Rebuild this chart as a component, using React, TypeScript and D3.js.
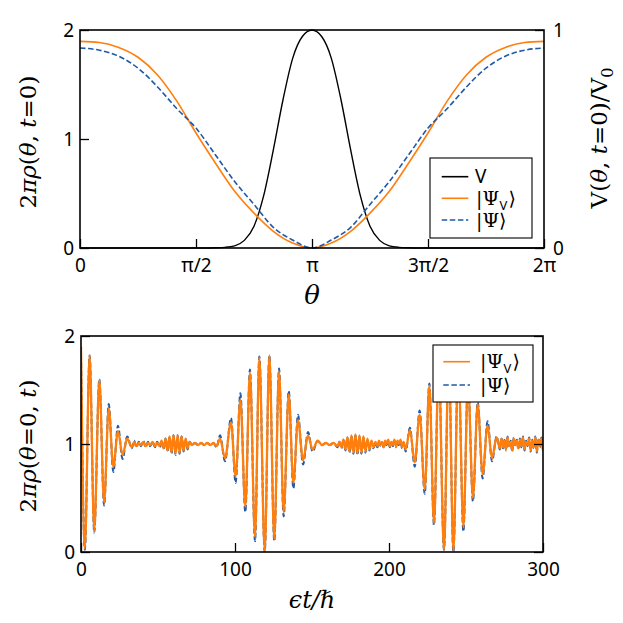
import React, { useEffect, useRef } from 'react';
import * as d3 from 'd3';

// ---- top panel: theta in units of pi ----
const thetaTicks = [0, 0.5, 1, 1.5, 2];
const thetaTickLabels = ['0', 'π/2', 'π', '3π/2', '2π'];

// theta grid (twelfths of pi) for the densities
const thetaRho = [0, 1, 2, 3, 4, 5, 6, 7, 8, 9, 10, 11, 12, 13, 14, 15, 16, 17, 18, 19, 20, 21, 22, 23, 24];
const rhoV0 = [1.896, 1.885, 1.84, 1.75, 1.59, 1.35, 1.055, 0.78, 0.52, 0.32, 0.153, 0.045, 0,
    0.045, 0.153, 0.32, 0.52, 0.78, 1.055, 1.35, 1.59, 1.75, 1.84, 1.885, 1.896];
const rho0 = [1.835, 1.815, 1.76, 1.65, 1.48, 1.28, 1.1, 0.856, 0.61, 0.4, 0.19, 0.073, 0,
    0.073, 0.19, 0.4, 0.61, 0.856, 1.1, 1.28, 1.48, 1.65, 1.76, 1.815, 1.835];

// theta grid (24ths of pi) for the potential
const thetaV = [0, 1, 2, 3, 4, 5, 6, 7, 8, 9, 10, 11, 12, 13, 14, 15, 16, 17, 18, 19, 20, 21, 22, 23, 24,
    25, 26, 27, 28, 29, 30, 31, 32, 33, 34, 35, 36, 37, 38, 39, 40, 41, 42, 43, 44, 45, 46, 47, 48];
const potV = [0, 0, 0, 0, 0, 0, 0, 0, 0, 0, 0, 0, 0, 0, 0.001, 0.003, 0.01, 0.035, 0.1, 0.24, 0.45, 0.68, 0.87, 0.97, 1,
    0.97, 0.87, 0.68, 0.45, 0.24, 0.1, 0.035, 0.01, 0.003, 0.001, 0, 0, 0, 0, 0, 0, 0, 0, 0, 0, 0, 0, 0, 0];

// ---- bottom panel: density at theta=0 vs time ----
const timeTicks = [0, 100, 200, 300];
const tTime = [
    // first revival
    0, 2.5, 5.6, 8.6, 11.9, 15, 18, 21, 24, 27, 30,
    // quiet
    33, 34.5, 36, 37.5, 39, 40.5, 42, 43.5, 45, 46.5, 48, 49.5,
    // small packet
    51, 52.3, 53.6, 54.9, 56.2, 57.5, 58.8, 60.1, 61.4, 62.7, 64, 65.3, 66.6, 67.9, 69.2, 70.5,
    // quiet
    72, 74, 76, 78, 80, 82, 84, 86, 88,
    // second revival
    90.3, 93.5, 97.4, 100.4, 103.5, 106.7, 109.7, 113, 115.8, 119.3, 122.3, 125.5, 128.6, 131.6, 134.9,
    137.9, 140.9, 144.2, 147.4, 150.4, 153.7,
    // quiet
    156.5, 159, 161.5, 164,
    // small packet
    166.5, 167.8, 169.1, 170.4, 171.7, 173, 174.3, 175.6, 176.9, 178.2, 179.5, 180.8, 182.1, 183.4, 184.7,
    186, 187.3, 188.6, 189.9, 191.2,
    // noisy
    192.5, 193.5, 194.5, 195.5, 196.5, 197.5, 198.5, 199.5, 200.5, 201.5, 202.5, 203.5, 204.5, 205.5,
    206.5, 207.5, 208.5, 209.5,
    // third revival
    210.8, 213.6, 216.7, 219.9, 223.2, 226.2, 229.2, 232.3, 235.7, 238.8, 241.8, 245, 248.3, 251.3, 254.5,
    257.6, 260.8, 264, 266.9, 269.9,
    // noisy tail
    272, 273, 274, 275, 276, 277, 278, 279, 280, 281, 282, 283, 284, 285, 286, 287, 288, 289, 290, 291,
    292, 293, 294, 295, 296, 297, 298, 299, 300,
];
const rhoVTime = [
    1.9, 0.03, 1.82, 0.2, 1.59, 0.46, 1.33, 0.79, 1.12, 0.9, 1.05,
    0.97, 1.02, 0.98, 1.01, 0.99, 1.02, 0.98, 1.01, 0.99, 1.02, 0.98, 1.01,
    0.98, 1.03, 0.96, 1.05, 0.94, 1.07, 0.92, 1.08, 0.91, 1.08, 0.92, 1.07, 0.94, 1.05, 0.96, 1.02,
    0.99, 1.01, 0.99, 1.01, 0.99, 1.01, 0.99, 1.01, 0.98,
    1.05, 0.87, 1.2, 0.7, 1.41, 0.42, 1.66, 0.14, 1.8, 0.01, 1.82, 0.12, 1.67, 0.37, 1.46,
    0.64, 1.22, 0.85, 1.08, 0.95, 1.03,
    0.99, 1.01, 0.99, 1.01,
    0.98, 1.02, 0.97, 1.04, 0.95, 1.06, 0.93, 1.08, 0.92, 1.09, 0.91, 1.08, 0.92, 1.07, 0.93,
    1.05, 0.95, 1.03, 0.97, 1.02,
    0.98, 1.03, 0.99, 1.02, 0.97, 1.03, 1.0, 1.04, 0.98, 1.02, 0.99, 1.04, 0.98, 1.03,
    1.0, 1.04, 0.97, 1.02,
    0.95, 1.13, 0.83, 1.27, 0.58, 1.54, 0.27, 1.72, 0.02, 1.82, 0.01, 1.76, 0.23, 1.58, 0.5,
    1.37, 0.72, 1.17, 0.87, 1.06,
    0.96, 1.05, 0.97, 1.03, 0.95, 1.06, 0.98, 1.02, 0.94, 1.05, 0.99, 1.03, 0.96, 1.04, 0.98, 1.06,
    0.95, 1.02, 0.99, 1.05, 0.94, 1.03, 0.97, 1.06, 0.93, 1.04, 0.98, 1.05, 0.94,
];
const rhoTime = [
    1.83, 0.02, 1.82, 0.18, 1.6, 0.43, 1.37, 0.74, 1.17, 0.86, 1.07,
    0.96, 1.03, 0.97, 1.02, 0.98, 1.03, 0.97, 1.02, 0.98, 1.02, 0.97, 1.02,
    0.97, 1.03, 0.95, 1.05, 0.93, 1.07, 0.91, 1.08, 0.9, 1.08, 0.91, 1.07, 0.93, 1.05, 0.95, 1.02,
    0.99, 1.01, 0.99, 1.01, 0.99, 1.01, 0.99, 1.01, 0.97,
    1.08, 0.84, 1.24, 0.64, 1.47, 0.37, 1.69, 0.1, 1.81, 0.0, 1.82, 0.1, 1.7, 0.33, 1.49,
    0.59, 1.27, 0.81, 1.11, 0.93, 1.03,
    0.99, 1.01, 0.99, 1.01,
    0.97, 1.02, 0.96, 1.04, 0.94, 1.06, 0.92, 1.07, 0.91, 1.08, 0.9, 1.07, 0.91, 1.06, 0.92,
    1.04, 0.94, 1.02, 0.96, 1.01,
    0.97, 1.02, 0.98, 1.01, 0.96, 1.02, 0.99, 1.03, 0.97, 1.01, 0.98, 1.03, 0.97, 1.02,
    0.99, 1.03, 0.96, 1.01,
    0.93, 1.15, 0.79, 1.31, 0.54, 1.56, 0.25, 1.74, 0.02, 1.82, 0.0, 1.78, 0.19, 1.6, 0.47,
    1.39, 0.68, 1.21, 0.84, 1.07,
    0.95, 1.06, 0.96, 1.04, 0.94, 1.07, 0.97, 1.03, 0.93, 1.06, 0.98, 1.04, 0.95, 1.05, 0.97, 1.07,
    0.94, 1.03, 0.98, 1.06, 0.93, 1.04, 0.96, 1.07, 0.92, 1.05, 0.97, 1.06, 0.93,
];

const ORANGE = '#ff7f0e';
const BLUE = '#1f5aa6';
const tickFont = '"Noto Sans", "DejaVu Sans", sans-serif';
const mathFont = '"DejaVu Serif", serif';

function styleAxis(sel: any) {
    sel.select('.domain').remove();
    sel.selectAll('.tick line').attr('stroke', '#000').attr('stroke-width', 1.3);
    sel.selectAll('.tick text')
        .attr('font-family', tickFont)
        .attr('font-size', 19)
        .attr('fill', '#000');
}

// label made of [text, italic?, sub?] pieces
function mathLabel(g: any, parts: [string, boolean, boolean][], size: number) {
    const text = g.append('text')
        .attr('text-anchor', 'middle')
        .attr('font-family', mathFont)
        .attr('font-size', size)
        .attr('fill', '#000');
    let down = 0;
    parts.forEach(([s, it, sub]) => {
        const dy = sub ? size * 0.25 - down : -down;
        down = sub ? size * 0.25 : 0;
        text.append('tspan')
            .attr('font-style', it ? 'italic' : 'normal')
            .attr('font-size', sub ? size * 0.7 : size)
            .attr('dy', dy)
            .text(s);
    });
    return text;
}

// legend entry: sample line + label, as one text with tspans
function legendRow(g: any, y: number, x0: number, x1: number, tx: number, color: string, dash: string | null, label: 'V' | 'PsiV' | 'Psi') {
    const ln = g.append('line')
        .attr('x1', x0).attr('x2', x1).attr('y1', y).attr('y2', y)
        .attr('stroke', color).attr('stroke-width', 1.6);
    if (dash) ln.attr('stroke-dasharray', dash);
    const t = g.append('text').attr('x', tx).attr('y', y + 6.5)
        .attr('font-size', 19).attr('fill', '#000');
    if (label === 'V') {
        t.attr('font-family', tickFont).text('V');
        return;
    }
    t.attr('font-family', mathFont);
    t.append('tspan').text('|Ψ');
    if (label === 'PsiV') {
        t.append('tspan').attr('font-family', tickFont).attr('font-size', 13)
            .attr('dx', 0.5).attr('dy', 5).text('V');
        t.append('tspan').attr('dx', 1).attr('dy', -5).text('⟩');
    } else {
        t.append('tspan').text('⟩');
    }
}

function drawChart(svgEl: SVGSVGElement) {
    const svg = d3.select(svgEl);
    svg.selectAll('*').remove();
    svg.append('rect').attr('width', 623).attr('height', 623).attr('fill', '#fff');

    // ================= top panel =================
    const T = { left: 80, right: 544, top: 30, bottom: 248 };
    const xTop = d3.scaleLinear().domain([0, 2]).range([T.left, T.right]);
    const yTopL = d3.scaleLinear().domain([0, 2]).range([T.bottom, T.top]);
    const yTopR = d3.scaleLinear().domain([0, 1]).range([T.bottom, T.top]);

    svg.append('clipPath').attr('id', 'clipTop')
        .append('rect').attr('x', T.left).attr('y', T.top - 2)
        .attr('width', T.right - T.left).attr('height', T.bottom - T.top + 4);

    const topG = svg.append('g').attr('clip-path', 'url(#clipTop)');

    const lineTop = d3.line<[number, number]>()
        .x((d) => xTop(d[0]))
        .y((d) => yTopL(d[1]))
        .curve(d3.curveMonotoneX);
    const lineTopR = d3.line<[number, number]>()
        .x((d) => xTop(d[0]))
        .y((d) => yTopR(d[1]))
        .curve(d3.curveMonotoneX);

    topG.append('path')
        .attr('d', lineTopR(thetaV.map((k, i) => [k / 24, potV[i]] as [number, number])))
        .attr('fill', 'none').attr('stroke', '#000').attr('stroke-width', 1.4);
    topG.append('path')
        .attr('d', lineTop(thetaRho.map((k, i) => [k / 12, rhoV0[i]] as [number, number])))
        .attr('fill', 'none').attr('stroke', ORANGE).attr('stroke-width', 1.6);
    topG.append('path')
        .attr('d', lineTop(thetaRho.map((k, i) => [k / 12, rho0[i]] as [number, number])))
        .attr('fill', 'none').attr('stroke', BLUE).attr('stroke-width', 1.6)
        .attr('stroke-dasharray', '5.5,2.6');

    svg.append('g').attr('transform', `translate(0,${T.bottom})`)
        .call(d3.axisBottom(xTop).tickValues(thetaTicks)
            .tickFormat((d, i) => thetaTickLabels[i])
            .tickSizeInner(-9).tickSizeOuter(0).tickPadding(11))
        .call(styleAxis);
    svg.append('g').attr('transform', `translate(${T.left},0)`)
        .call(d3.axisLeft(yTopL).tickValues([0, 1, 2]).tickFormat(d3.format('d'))
            .tickSizeInner(-9).tickSizeOuter(0).tickPadding(6))
        .call(styleAxis);
    svg.append('g').attr('transform', `translate(${T.right},0)`)
        .call(d3.axisRight(yTopR).tickValues([0, 1]).tickFormat(d3.format('d'))
            .tickSizeInner(-9).tickSizeOuter(0).tickPadding(9))
        .call(styleAxis);

    svg.append('rect')
        .attr('x', T.left).attr('y', T.top)
        .attr('width', T.right - T.left).attr('height', T.bottom - T.top)
        .attr('fill', 'none').attr('stroke', '#000').attr('stroke-width', 1.6);

    // legend
    const lg1 = svg.append('g');
    lg1.append('rect').attr('x', 430).attr('y', 158).attr('width', 102).attr('height', 80)
        .attr('fill', '#fff').attr('stroke', '#000').attr('stroke-width', 1.1);
    legendRow(lg1, 176.7, 441.7, 468.3, 475, '#000', null, 'V');
    legendRow(lg1, 198.3, 441.7, 468.3, 476, ORANGE, null, 'PsiV');
    legendRow(lg1, 220, 441.7, 468.3, 476, BLUE, '5.5,2.6', 'Psi');

    // axis labels
    mathLabel(svg.append('g').attr('transform', 'translate(312,304)'),
        [['θ', true, false]], 26);
    mathLabel(svg.append('g').attr('transform', 'translate(36,142) rotate(-90)'),
        [['2', false, false], ['πρ', true, false], ['(', false, false], ['θ', true, false],
            [', ', false, false], ['t', true, false], ['=0)', false, false]], 23);
    mathLabel(svg.append('g').attr('transform', 'translate(607,138) rotate(-90)'),
        [['V(', false, false], ['θ', true, false], [', ', false, false], ['t', true, false],
            ['=0)/V', false, false], ['0', false, true]], 23);

    // ================= bottom panel =================
    const B = { left: 81, right: 543, top: 336, bottom: 552 };
    const xBot = d3.scaleLinear().domain([0, 300]).range([B.left, B.right]);
    const yBot = d3.scaleLinear().domain([0, 2]).range([B.bottom, B.top]);

    svg.append('clipPath').attr('id', 'clipBot')
        .append('rect').attr('x', B.left).attr('y', B.top)
        .attr('width', B.right - B.left).attr('height', B.bottom - B.top);
    const botG = svg.append('g').attr('clip-path', 'url(#clipBot)');

    const lineBot = d3.line<number>()
        .x((_, i) => xBot(tTime[i]))
        .y((d) => yBot(d))
        .curve(d3.curveMonotoneX);

    botG.append('path').attr('d', lineBot(rhoTime))
        .attr('fill', 'none').attr('stroke', BLUE).attr('stroke-width', 2)
        .attr('stroke-dasharray', '5.5,2.6');
    botG.append('path').attr('d', lineBot(rhoVTime))
        .attr('fill', 'none').attr('stroke', ORANGE).attr('stroke-width', 2.3)
        .attr('stroke-linejoin', 'round');

    svg.append('g').attr('transform', `translate(0,${B.bottom})`)
        .call(d3.axisBottom(xBot).tickValues(timeTicks).tickFormat(d3.format('d'))
            .tickSizeInner(-9).tickSizeOuter(0).tickPadding(11))
        .call(styleAxis);
    svg.append('g').attr('transform', `translate(${B.left},0)`)
        .call(d3.axisLeft(yBot).tickValues([0, 1, 2]).tickFormat(d3.format('d'))
            .tickSizeInner(-9).tickSizeOuter(0).tickPadding(6))
        .call(styleAxis);
    svg.append('g').attr('transform', `translate(${B.right},0)`)
        .call(d3.axisRight(yBot).tickValues([0, 1, 2]).tickFormat(() => '')
            .tickSizeInner(-9).tickSizeOuter(0))
        .call(styleAxis);

    svg.append('rect')
        .attr('x', B.left).attr('y', B.top)
        .attr('width', B.right - B.left).attr('height', B.bottom - B.top)
        .attr('fill', 'none').attr('stroke', '#000').attr('stroke-width', 1.6);

    const lg2 = svg.append('g');
    lg2.append('rect').attr('x', 433).attr('y', 345).attr('width', 100).attr('height', 57)
        .attr('fill', '#fff').attr('stroke', '#000').attr('stroke-width', 1.1);
    legendRow(lg2, 361.7, 443.3, 470, 480, ORANGE, null, 'PsiV');
    legendRow(lg2, 385, 443.3, 470, 480, BLUE, '5.5,2.6', 'Psi');

    mathLabel(svg.append('g').attr('transform', 'translate(312,608)'),
        [['ϵt/ℏ', true, false]], 24);
    mathLabel(svg.append('g').attr('transform', 'translate(36,446) rotate(-90)'),
        [['2', false, false], ['πρ', true, false], ['(', false, false], ['θ', true, false],
            ['=0, ', false, false], ['t', true, false], [')', false, false]], 23);
}

export default function App() {
    const ref = useRef<SVGSVGElement>(null);

    useEffect(() => {
        if (ref.current) drawChart(ref.current);
    }, []);

    return (
        <svg
            ref={ref}
            width={623}
            height={623}
            style={{ position: 'absolute', left: 0, top: 0, display: 'block' }}
        />
    );
}
